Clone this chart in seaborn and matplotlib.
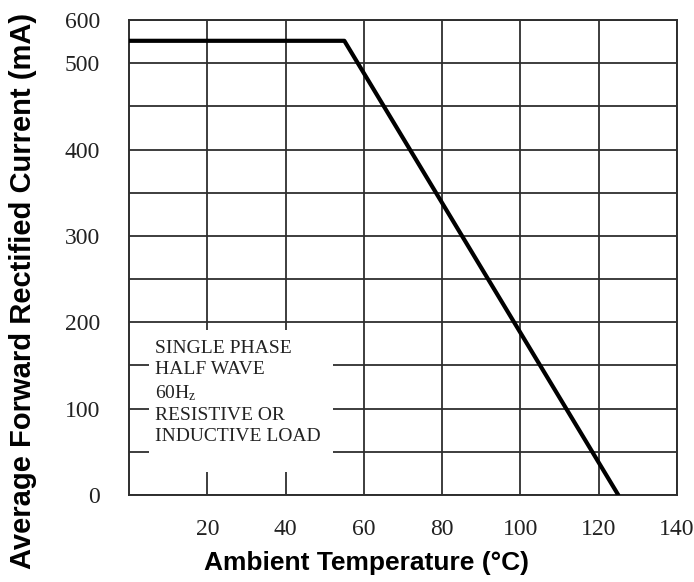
import matplotlib
matplotlib.use("Agg")
import matplotlib.pyplot as plt
import seaborn as sns
import pandas as pd
from matplotlib.patches import Rectangle

# derating curve
temp_c = [0, 55, 125]
current_ma = [526, 526, 0]

x_ticks = [20, 40, 60, 80, 100, 120, 140]
x_tick_labels = ["20", "40", "60", "80", "100", "120", "140"]
# the original puts "600" on the top edge, which sits one half-division above 500
y_ticks = [0, 100, 200, 300, 400, 500, 550]
y_tick_labels = ["0", "100", "200", "300", "400", "500", "600"]
y_minor = [50, 150, 250, 350, 450]

note_lines = ["SINGLE PHASE", "HALF WAVE", "60H$\\mathregular{_z}$",
              "RESISTIVE OR", "INDUCTIVE LOAD"]

sns.set_theme(style="white")
plt.rcParams["font.family"] = ["Liberation Serif", "DejaVu Serif"]

df = pd.DataFrame({"temp": temp_c, "current": current_ma})

fig = plt.figure(figsize=(6.94, 5.82), dpi=100)
ax = fig.add_axes([0.186, 0.1495, 0.7895, 0.816])

grid_col = "#2e2e2e"
sns.lineplot(data=df, x="temp", y="current", ax=ax, color="black",
             linewidth=3.0, zorder=5)

ax.set_xlim(0, 140)
ax.set_ylim(0, 550)
ax.set_xticks(x_ticks, labels=x_tick_labels)
ax.set_yticks(y_ticks, labels=y_tick_labels)
ax.set_yticks(y_minor, minor=True)
ax.grid(True, which="both", axis="y", color=grid_col, linewidth=1.3)
ax.grid(True, which="major", axis="x", color=grid_col, linewidth=1.3)
ax.set_axisbelow(True)

ax.tick_params(axis="both", which="both", length=0, labelsize=17,
               labelcolor="#222222")
ax.tick_params(axis="y", pad=21)
ax.tick_params(axis="x", pad=17)

for sp in ax.spines.values():
    sp.set_color(grid_col)
    sp.set_linewidth(1.4)

# white panel behind the note, covering the grid
ax.add_patch(Rectangle((5, 27), 47, 164, facecolor="white", edgecolor="none",
                       zorder=2))
ax.text(6.6, 180, "\n".join(note_lines), fontsize=14, color="#222222",
        va="top", ha="left", linespacing=1.33, zorder=6,
        family=["Liberation Serif", "DejaVu Serif"])

ax.set_xlabel("Ambient Temperature (°C)", fontsize=19, fontweight="bold",
              family=["Liberation Sans", "DejaVu Sans"], color="black",
              va="center")
ax.xaxis.set_label_coords(0.434, -0.143)
ax.set_ylabel("Average Forward Rectified Current (mA)", fontsize=21,
              fontweight="bold", family=["Liberation Sans", "DejaVu Sans"],
              color="black", va="center")
ax.yaxis.set_label_coords(-0.193, 0.429)

fig.savefig("out.png", dpi=100)
plt.close(fig)
